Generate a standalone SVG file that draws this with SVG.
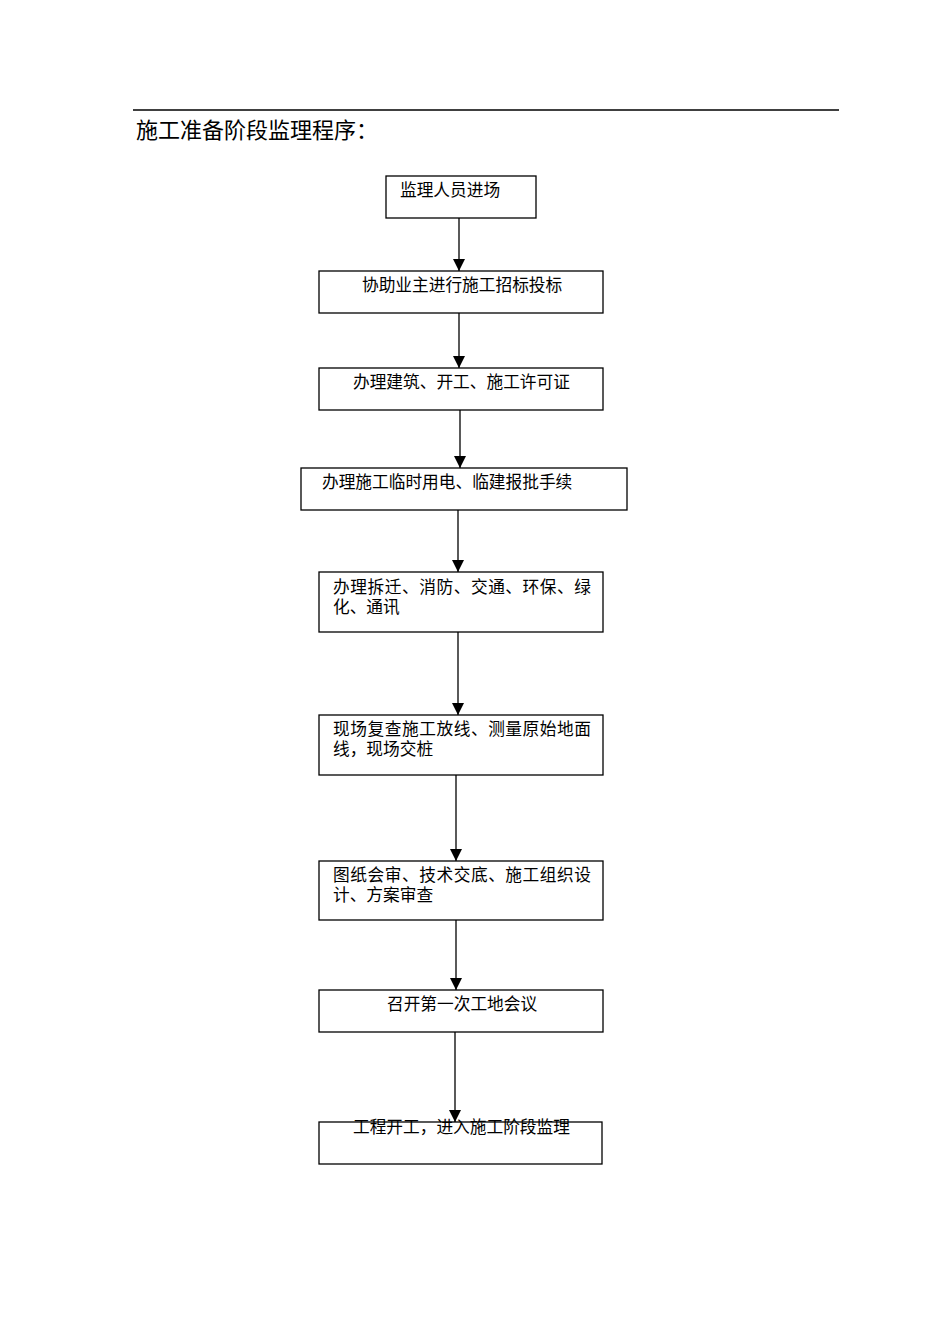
<svg xmlns="http://www.w3.org/2000/svg" width="950" height="1344" viewBox="0 0 950 1344">
<style>
.box{fill:#fff;stroke:#000;stroke-width:1.3}
.t{font-family:"Liberation Serif","Noto Sans CJK SC",serif;font-size:16.7px;fill:#000}
.ttl{font-family:"Liberation Serif","Noto Sans CJK SC",serif;font-size:22px;fill:#000}
.ln{stroke:#000;stroke-width:1.3;fill:none}
</style>
<rect width="950" height="1344" fill="#fff"/>
<line x1="133" y1="110" x2="839" y2="110" stroke="#000" stroke-width="1.3"/>
<text class="ttl" x="136" y="138">施工准备阶段监理程序：</text>
<g id="connectors">
<path class="ln" d="M459,218 V271"/>
<path d="M453,259 H465 L459,271 Z" fill="#000"/>
<path class="ln" d="M459,313 V368"/>
<path d="M453,356 H465 L459,368 Z" fill="#000"/>
<path class="ln" d="M460,410 V468"/>
<path d="M454,456 H466 L460,468 Z" fill="#000"/>
<path class="ln" d="M458,510 V572"/>
<path d="M452,560 H464 L458,572 Z" fill="#000"/>
<path class="ln" d="M458,632 V715"/>
<path d="M452,703 H464 L458,715 Z" fill="#000"/>
<path class="ln" d="M456,775 V861"/>
<path d="M450,849 H462 L456,861 Z" fill="#000"/>
<path class="ln" d="M456,920 V990"/>
<path d="M450,978 H462 L456,990 Z" fill="#000"/>
<path class="ln" d="M455,1032 V1122"/>
<path d="M449,1110 H461 L455,1122 Z" fill="#000"/>
</g>
<g id="n1"><rect class="box" x="386" y="176" width="150" height="42"/><text class="t" x="400" y="196">监理人员进场</text></g>
<g id="n2"><rect class="box" x="319" y="271" width="284" height="42"/><text class="t" x="362" y="291">协助业主进行施工招标投标</text></g>
<g id="n3"><rect class="box" x="319" y="368" width="284" height="42"/><text class="t" x="353" y="388">办理建筑、开工、施工许可证</text></g>
<g id="n4"><rect class="box" x="301" y="468" width="326" height="42"/><text class="t" x="322" y="488">办理施工临时用电、临建报批手续</text></g>
<g id="n5"><rect class="box" x="319" y="572" width="284" height="60"/><text class="t" x="333" y="593" textLength="258" lengthAdjust="spacing">办理拆迁、消防、交通、环保、绿</text><text class="t" x="333" y="613">化、通讯</text></g>
<g id="n6"><rect class="box" x="319" y="715" width="284" height="60"/><text class="t" x="333" y="735" textLength="258" lengthAdjust="spacing">现场复查施工放线、测量原始地面</text><text class="t" x="333" y="755">线，现场交桩</text></g>
<g id="n7"><rect class="box" x="319" y="861" width="284" height="59"/><text class="t" x="333" y="881" textLength="258" lengthAdjust="spacing">图纸会审、技术交底、施工组织设</text><text class="t" x="333" y="901">计、方案审查</text></g>
<g id="n8"><rect class="box" x="319" y="990" width="284" height="42"/><text class="t" x="387" y="1010">召开第一次工地会议</text></g>
<g id="n9"><rect class="box" x="319" y="1122" width="283" height="42"/><text class="t" x="353" y="1133">工程开工，进入施工阶段监理</text></g>
</svg>
